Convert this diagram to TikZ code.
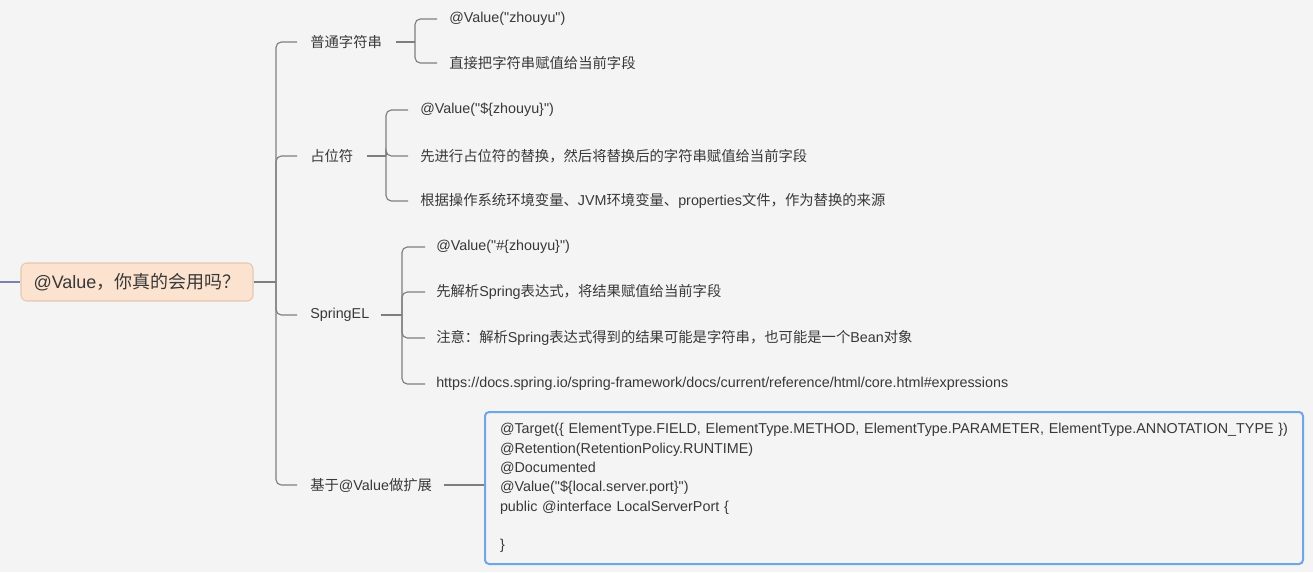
\documentclass[tikz,border=0pt]{standalone}
\usepackage{fontspec}
\setmainfont{Liberation Sans}[Ligatures=TeXOff]
\newfontfamily\cjk{Noto Sans CJK SC}
\newcommand{\C}[1]{{\cjk #1}}
\newcommand{\qq}{\char34\relax}
\definecolor{bgc}{HTML}{F4F4F4}
\definecolor{txt}{HTML}{383838}
\definecolor{linec}{HTML}{7E7E7E}
\definecolor{rootfill}{HTML}{FCE3D0}
\definecolor{rootdraw}{HTML}{E6C7B1}
\definecolor{leftline}{HTML}{7D80B3}
\definecolor{boxblue}{HTML}{6EA6E6}
\tikzset{
  rootnode/.style={draw=rootdraw, line width=0.8pt, fill=rootfill, rounded corners=4.5pt,
    minimum width=174pt, minimum height=28.5pt, inner sep=0pt, text=txt,
    font=\fontsize{13.5pt}{16pt}\selectfont},
  branch/.style={anchor=west, inner sep=0pt, text=txt, font=\fontsize{10.75pt}{13pt}\selectfont},
  leaf/.style={anchor=west, inner sep=0pt, text=txt, font=\fontsize{10.75pt}{13pt}\selectfont},
  conn/.style={draw=linec, line width=0.85pt},
  codebox/.style={draw=boxblue, line width=1.5pt, fill=bgc, rounded corners=3pt,
    anchor=north west, minimum width=613.5pt, minimum height=114pt,
    text width=591pt, inner xsep=11.25pt, inner ysep=0pt, align=left, text=txt,
    font=\fontsize{10.75pt}{14.5pt}\selectfont}
}
\begin{document}
\begin{tikzpicture}[x=0.75pt, y=-0.75pt]
\fill[bgc] (0,0) rectangle (1313,572);
\useasboundingbox (0,0) rectangle (1313,572);

% root
\node[rootnode] (root) at (137,282) {@Value\C{，你真的会用吗？}};
\coordinate (L) at (0,282);
\draw[draw=leftline, line width=0.85pt] (L) -- (root.west);

% branches
\node[branch] (b1) at (310,42) {\C{普通字符串}};
\node[branch] (b2) at (310,156) {\C{占位符}};
\node[branch] (b3) at (310,315) {SpringEL};
\node[branch] (b4) at (310,485) {\C{基于}@Value\C{做扩展}};

\coordinate (T) at (276,282);
\draw[conn] (root.east) -- (T);
\foreach \b in {b1,b2,b3,b4}{
  \draw[conn, rounded corners=4pt] (T) |- ([xshift=-9.75pt]\b.west);
}

% leaves of b1
\node[leaf] (l11) at (449,19) {@Value(\qq zhouyu\qq)};
\node[leaf] (l12) at (449,63) {\C{直接把字符串赋值给当前字段}};
\coordinate (j1) at (415,42);
\draw[conn] ([xshift=10.5pt]b1.east) -- (j1);
\foreach \l in {l11,l12}{
  \draw[conn, rounded corners=4pt] (j1) |- ([xshift=-9pt]\l.west);
}

% leaves of b2
\node[leaf] (l21) at (420,110) {@Value(\qq\$\{zhouyu\}\qq)};
\node[leaf] (l22) at (420,156) {\C{先进行占位符的替换，然后将替换后的字符串赋值给当前字段}};
\node[leaf] (l23) at (420,201) {\C{根据操作系统环境变量、}JVM\C{环境变量、}properties\C{文件，作为替换的来源}};
\coordinate (j2) at (386,156);
\draw[conn] ([xshift=9.75pt]b2.east) -- (j2);
\foreach \l in {l21,l22,l23}{
  \draw[conn, rounded corners=4pt] (j2) |- ([xshift=-9pt]\l.west);
}

% leaves of b3
\node[leaf] (l31) at (436,247) {@Value(\qq\#\{zhouyu\}\qq)};
\node[leaf] (l32) at (436,292) {\C{先解析}Spring\C{表达式，将结果赋值给当前字段}};
\node[leaf] (l33) at (436,338) {\C{注意：解析}Spring\C{表达式得到的结果可能是字符串，也可能是一个}Bean\C{对象}};
\node[leaf] (l34) at (436,384) {https://docs.spring.io/spring-framework/docs/current/reference/html/core.html\#expressions};
\coordinate (j3) at (402,315);
\draw[conn] ([xshift=8.25pt]b3.east) -- (j3);
\foreach \l in {l31,l32,l33,l34}{
  \draw[conn, rounded corners=4pt] (j3) |- ([xshift=-8.25pt]\l.west);
}

% code box
\node[codebox] (code) at (484,411) {%
\mbox{@Target(\{ ElementType.FIELD, ElementType.METHOD, ElementType.PARAMETER, ElementType.ANNOTATION\_TYPE \})}\\
@Retention(RetentionPolicy.RUNTIME)\\
@Documented\\
@Value(\qq\$\{local.server.port\}\qq)\\
public @interface LocalServerPort \{\\
\strut\\
\}};
\draw[conn] ([xshift=9pt]b4.east) -- (code.west |- b4.east);
\end{tikzpicture}
\end{document}
